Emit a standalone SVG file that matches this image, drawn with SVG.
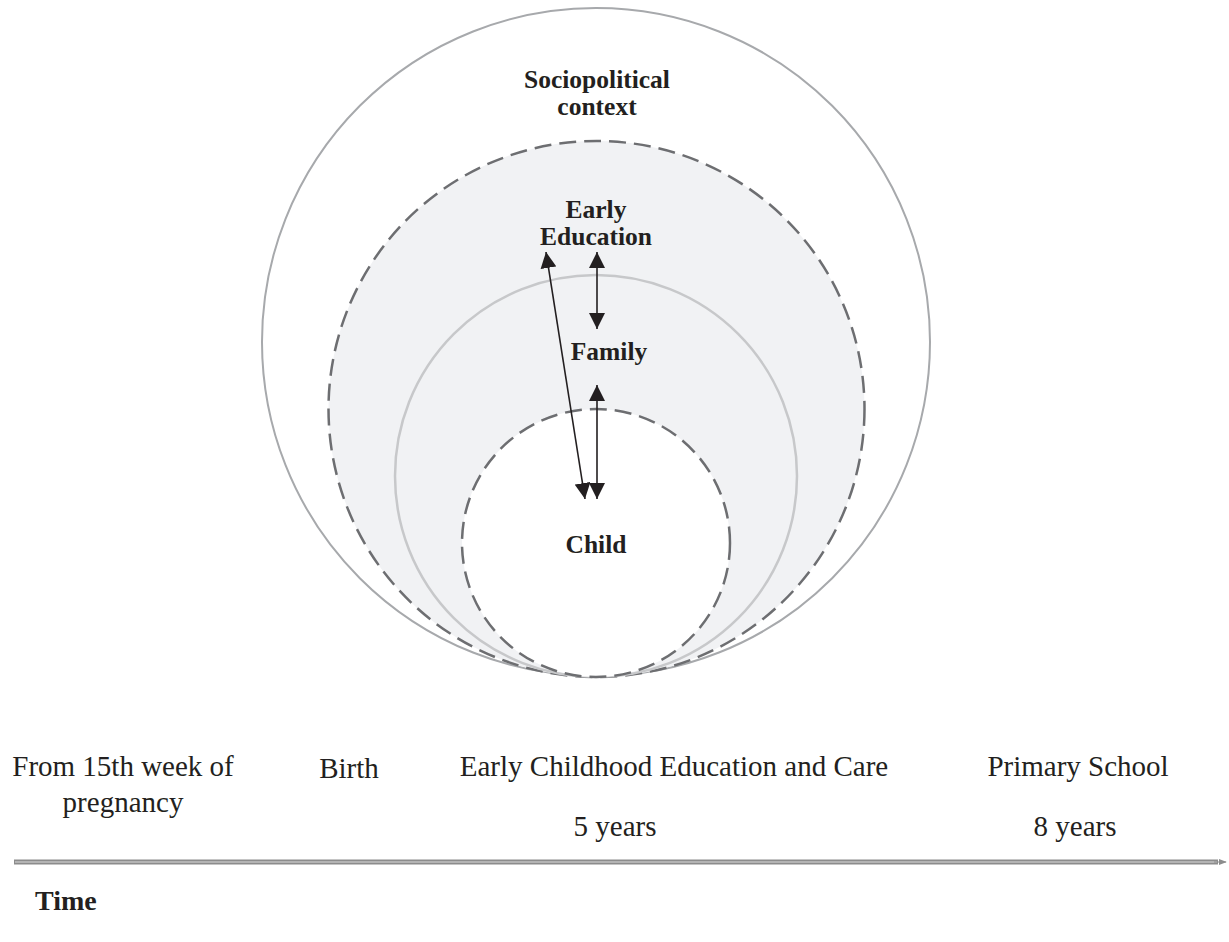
<svg xmlns="http://www.w3.org/2000/svg" width="1229" height="942" viewBox="0 0 1229 942">
<style>
.lbl{font-family:"Liberation Serif","Times New Roman",serif;font-weight:bold;font-size:25.5px;fill:#231f20;text-anchor:middle}
.tl{font-family:"Liberation Serif","Times New Roman",serif;font-size:29px;fill:#231f20;text-anchor:middle}
.tb{font-family:"Liberation Serif","Times New Roman",serif;font-weight:bold;font-size:28px;fill:#231f20}
.dash{fill:none;stroke:#6d6e71;stroke-width:2.5;stroke-dasharray:17 8}
.arr{stroke:#231f20;stroke-width:1.6;fill:none;marker-start:url(#ah);marker-end:url(#ah)}
</style>
<defs>
<marker id="ah" viewBox="0 0 10 10" refX="10" refY="5" markerWidth="16" markerHeight="16" markerUnits="userSpaceOnUse" orient="auto-start-reverse">
<path d="M0,0 L10,5 L0,10 Z" fill="#231f20"/>
</marker>
<marker id="ta" viewBox="0 0 10 10" refX="9" refY="5" markerWidth="8" markerHeight="8" markerUnits="userSpaceOnUse" orient="auto">
<path d="M0,1 L10,5 L0,9 Z" fill="#8c8c8c"/>
</marker>
</defs>
<rect width="1229" height="942" fill="#fff"/>
<g id="sociopolitical">
<circle cx="596" cy="342" r="334" fill="none" stroke="#a7a9ac" stroke-width="2"/>
<text class="lbl" x="597" y="88">Sociopolitical</text>
<text class="lbl" x="597" y="115">context</text>
</g>
<g id="early-education">
<circle cx="596.5" cy="409" r="268" fill="#f1f2f4"/>
<circle cx="596.5" cy="409" r="268" class="dash"/>
<text class="lbl" x="596" y="218">Early</text>
<text class="lbl" x="596" y="245">Education</text>
</g>
<g id="family">
<circle cx="596" cy="476" r="201" fill="#f1f2f4" stroke="#c7c8ca" stroke-width="2.5"/>
<text class="lbl" x="609" y="360">Family</text>
</g>
<g id="child">
<circle cx="596" cy="543" r="134" fill="#fff"/>
<circle cx="596" cy="543" r="134" class="dash"/>
<text class="lbl" x="596" y="553">Child</text>
</g>
<g id="connectors">
<line class="arr" x1="597" y1="252" x2="597" y2="329"/>
<line class="arr" x1="597" y1="385" x2="597" y2="499"/>
<line class="arr" x1="546" y1="252" x2="585" y2="499"/>
</g>
<g id="timeline">
<line x1="14" y1="862" x2="1218" y2="862" stroke="#8c8c8c" stroke-width="5"/>
<line x1="15" y1="862" x2="1217" y2="862" stroke="#b4b4b4" stroke-width="2"/>
<line x1="1214" y1="862" x2="1226" y2="862" stroke="#8c8c8c" stroke-width="1" marker-end="url(#ta)"/>
<text class="tl" x="123" y="776">From 15th week of</text>
<text class="tl" x="123" y="812">pregnancy</text>
<text class="tl" x="349" y="778">Birth</text>
<text class="tl" x="674" y="776">Early Childhood Education and Care</text>
<text class="tl" x="615" y="836">5 years</text>
<text class="tl" x="1078" y="776">Primary School</text>
<text class="tl" x="1075" y="836">8 years</text>
<text class="tb" x="35" y="910">Time</text>
</g>
</svg>
